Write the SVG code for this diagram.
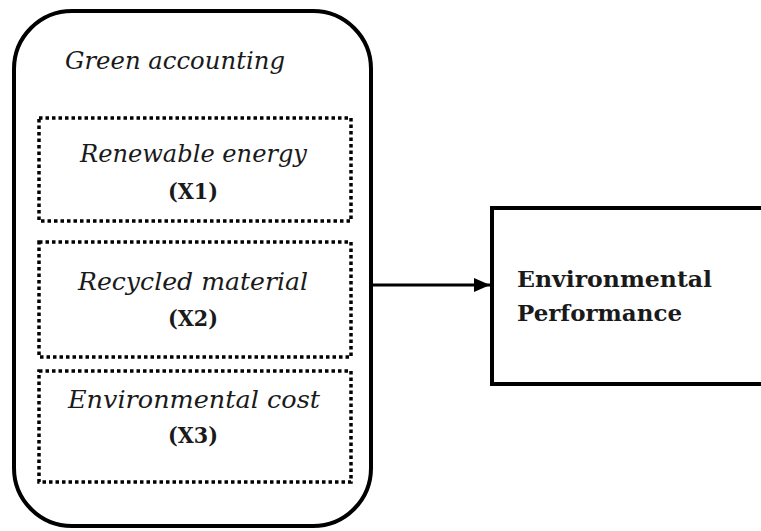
<svg xmlns="http://www.w3.org/2000/svg" width="761" height="531" viewBox="0 0 761 531">
<defs>
<style>
.it{font-family:"DejaVu Serif","Liberation Serif",serif;font-style:italic;font-size:24px;fill:#1a1a1a}
.bd{font-family:"DejaVu Serif","Liberation Serif",serif;font-weight:bold;font-size:22px;fill:#1a1a1a}
.lbl{font-family:"DejaVu Serif","Liberation Serif",serif;font-weight:bold;font-size:22px;fill:#1a1a1a}
.dot{fill:none;stroke:#000;stroke-width:3.5;stroke-dasharray:3.5 3}
.solid{fill:none;stroke:#000;stroke-width:4}
</style>
<marker id="ah" markerWidth="16" markerHeight="16" refX="16" refY="8" orient="auto" markerUnits="userSpaceOnUse" viewBox="0 0 16 16">
<path d="M0,1 L16,8 L0,15 z" fill="#000"/>
</marker>
</defs>
<rect width="761" height="531" fill="#fff"/>
<g id="green-accounting">
<rect x="14" y="11" width="357" height="515" rx="58" ry="58" class="solid"/>
<text x="65" y="69" class="it" textLength="220" lengthAdjust="spacingAndGlyphs">Green accounting</text>
</g>
<g id="x1">
<rect x="39" y="118" width="312" height="103" class="dot"/>
<text x="80" y="162" class="it" textLength="227" lengthAdjust="spacingAndGlyphs">Renewable energy</text>
<text x="193" y="199" class="bd" text-anchor="middle" textLength="50" lengthAdjust="spacingAndGlyphs">(X1)</text>
</g>
<g id="x2">
<rect x="39" y="242" width="312" height="115" class="dot"/>
<text x="78" y="290" class="it" textLength="230" lengthAdjust="spacingAndGlyphs">Recycled material</text>
<text x="193" y="326" class="bd" text-anchor="middle" textLength="50" lengthAdjust="spacingAndGlyphs">(X2)</text>
</g>
<g id="x3">
<rect x="39" y="371" width="312" height="111" class="dot"/>
<text x="68" y="408" class="it" textLength="252" lengthAdjust="spacingAndGlyphs">Environmental cost</text>
<text x="193" y="443" class="bd" text-anchor="middle" textLength="50" lengthAdjust="spacingAndGlyphs">(X3)</text>
</g>
<g id="environmental-performance">
<rect x="492" y="208" width="290" height="176" class="solid"/>
<text x="517" y="287" class="lbl" textLength="195" lengthAdjust="spacingAndGlyphs">Environmental</text>
<text x="517" y="321" class="lbl" textLength="165" lengthAdjust="spacingAndGlyphs">Performance</text>
</g>
<g id="connectors">
<line x1="372" y1="285" x2="490" y2="285" stroke="#000" stroke-width="3" marker-end="url(#ah)"/>
</g>
</svg>
